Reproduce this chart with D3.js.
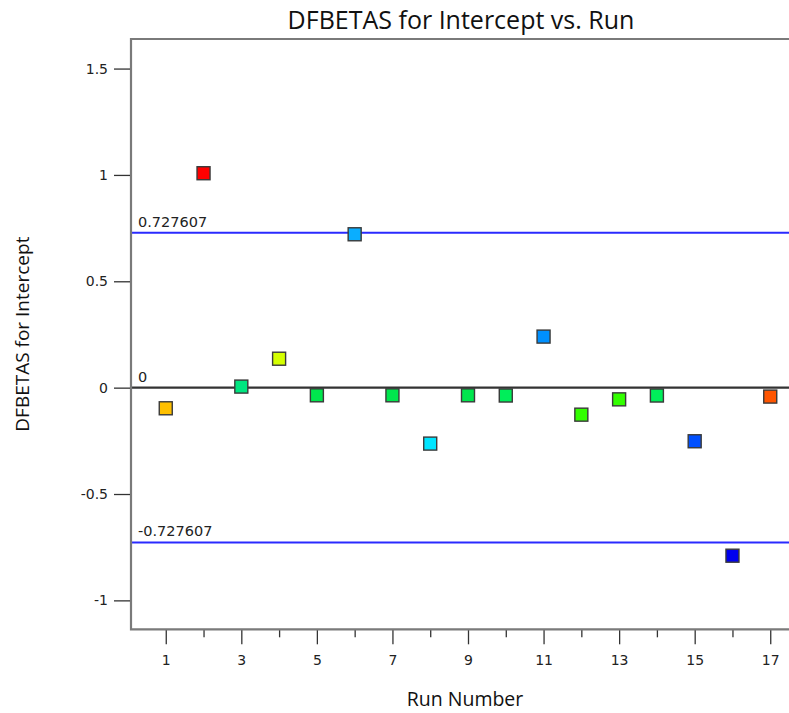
<!DOCTYPE html>
<html>
<head>
<meta charset="utf-8">
<script src="https://cdn.jsdelivr.net/npm/d3@7"></script>
<style>
  body { margin: 0; background: #fff; }
  svg { display: block; }
</style>
</head>
<body>
<svg id="chart"></svg>
<script>
// chart values
let runs = [1, 2, 3, 4, 5, 6, 7, 8, 9, 10, 11, 12, 13, 14, 15, 16, 17]
let dfbetas = [-0.097, 1.008, 0.005, 0.136, -0.036, 0.721, -0.036, -0.263, -0.036, -0.037, 0.240, -0.127, -0.055, -0.037, -0.252, -0.790, -0.042]
let pointColors = ['#FFC000', '#FF0000', '#00E680', '#D4FF00', '#00E64D', '#0AAEFF', '#00E64D', '#00E5FF', '#00E64D', '#00EE5A', '#0090FF', '#33FF00', '#33FF00', '#00EE5A', '#0050FF', '#0000EE', '#FF5500']
let limitValues = [0.727607, -0.727607]
let refLabels = ['0.727607', '0', '-0.727607']
let refLabelValues = [0.727607, 0, -0.727607]
let yTicks = [-1, -0.5, 0, 0.5, 1, 1.5]
let xMajorTicks = [1, 3, 5, 7, 9, 11, 13, 15, 17]
let xMinorTicks = [2, 4, 6, 8, 10, 12, 14, 16]

let width = 789
let height = 713
let plotLeft = 131
let plotTop = 39
let plotBottom = 629.3
let plotRight = 805

let svg = d3.select('#chart').attr('width', width).attr('height', height)

let xScale = d3.scaleLinear().domain([0.08, 17.92]).range([plotLeft, plotRight])
let yScale = d3.scaleLinear().domain([-1.136, 1.639]).range([plotBottom, plotTop])

// plain hyphen minus, like the original
let plainNum = (d) => String(d)

// title
svg.append('text')
    .attr('x', 461).attr('y', 29)
    .attr('text-anchor', 'middle')
    .style('font-family', '"Open Sans", "Noto Sans", sans-serif')
    .style('font-size', '25px')
    .attr('fill', '#111')
    .text('DFBETAS for Intercept vs. Run')

// reference lines
svg.append('line')
    .attr('x1', plotLeft).attr('x2', width)
    .attr('y1', yScale(0)).attr('y2', yScale(0))
    .attr('stroke', '#333').attr('stroke-width', 2.2)

limitValues.forEach((v) => {
    svg.append('line')
        .attr('x1', plotLeft).attr('x2', width)
        .attr('y1', yScale(v)).attr('y2', yScale(v))
        .attr('stroke', '#2a2aff').attr('stroke-width', 2)
})

svg.selectAll('.reflabel')
    .data(refLabels)
    .enter()
    .append('text')
    .attr('class', 'reflabel')
    .attr('x', plotLeft + 7)
    .attr('y', (d, i) => yScale(refLabelValues[i]) - 6)
    .style('font-family', '"DejaVu Sans", sans-serif')
    .style('font-size', '14.5px')
    .attr('fill', '#222')
    .text((d) => d)

// frame (left, top, bottom)
svg.append('path')
    .attr('d', 'M' + width + ',' + plotTop + 'H' + plotLeft + 'V' + plotBottom + 'H' + width)
    .attr('fill', 'none')
    .attr('stroke', '#7a7a7a')
    .attr('stroke-width', 2.2)

// y axis
let yAxis = d3.axisLeft(yScale)
    .tickValues(yTicks)
    .tickSize(16)
    .tickPadding(6)
    .tickFormat(plainNum)

let gy = svg.append('g')
    .attr('transform', 'translate(' + (plotLeft - 1) + ',0)')
    .call(yAxis)
gy.select('.domain').remove()
gy.selectAll('line').attr('stroke', '#333').attr('stroke-width', 1.3)
gy.selectAll('text')
    .style('font-family', '"DejaVu Sans", sans-serif')
    .style('font-size', '14px')
    .attr('fill', '#222')

// x axis
let xAxis = d3.axisBottom(xScale)
    .tickValues(xMajorTicks)
    .tickSize(14)
    .tickPadding(11)
    .tickFormat(plainNum)

let gx = svg.append('g')
    .attr('transform', 'translate(0,' + (plotBottom + 1) + ')')
    .call(xAxis)
gx.select('.domain').remove()
gx.selectAll('line').attr('stroke', '#333').attr('stroke-width', 1.3)
gx.selectAll('text')
    .style('font-family', '"DejaVu Sans", sans-serif')
    .style('font-size', '14px')
    .attr('fill', '#222')

let xMinor = d3.axisBottom(xScale)
    .tickValues(xMinorTicks)
    .tickSize(7)
    .tickFormat('')
let gxm = svg.append('g')
    .attr('transform', 'translate(0,' + (plotBottom + 1) + ')')
    .call(xMinor)
gxm.select('.domain').remove()
gxm.selectAll('line').attr('stroke', '#333').attr('stroke-width', 1.3)

// axis titles
svg.append('text')
    .attr('x', 465).attr('y', 706)
    .attr('text-anchor', 'middle')
    .style('font-family', '"Open Sans", "Noto Sans", sans-serif')
    .style('font-size', '19.5px')
    .attr('fill', '#111')
    .text('Run Number')

svg.append('text')
    .attr('transform', 'translate(29,' + ((plotTop + plotBottom) / 2) + ') rotate(-90)')
    .attr('text-anchor', 'middle')
    .style('font-family', '"Open Sans", "Noto Sans", sans-serif')
    .style('font-size', '19px')
    .attr('fill', '#111')
    .text('DFBETAS for Intercept')

// points
let size = 13
svg.selectAll('.pt')
    .data(runs)
    .enter()
    .append('rect')
    .attr('class', 'pt')
    .attr('x', (d) => xScale(d) - size / 2)
    .attr('y', (d, i) => yScale(dfbetas[i]) - size / 2)
    .attr('width', size)
    .attr('height', size)
    .attr('fill', (d, i) => pointColors[i])
    .attr('stroke', '#3a3a3a')
    .attr('stroke-width', 1.4)
</script>
</body>
</html>
